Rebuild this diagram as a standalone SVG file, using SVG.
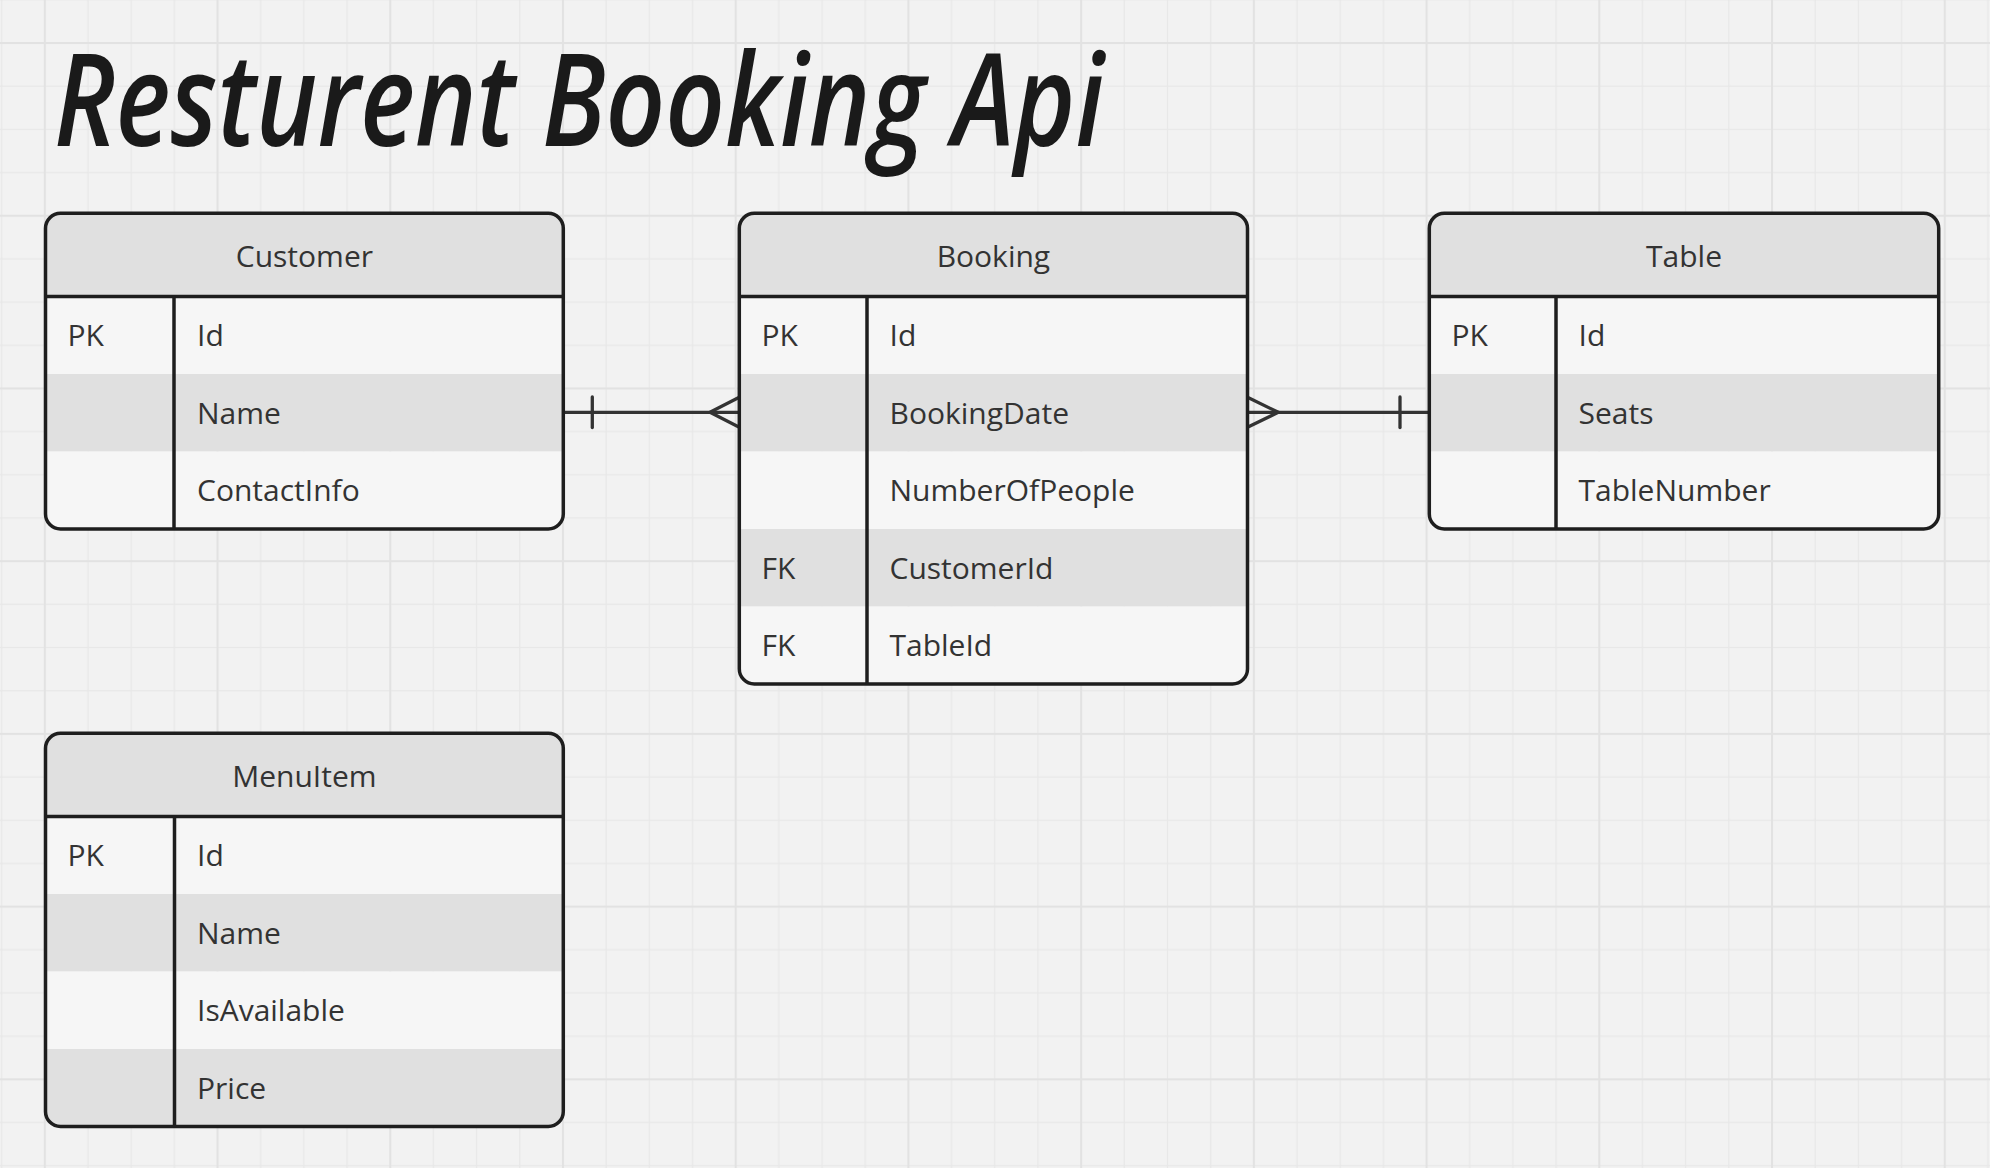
<svg xmlns="http://www.w3.org/2000/svg" width="1990" height="1168" viewBox="0 0 1990 1168">
<style>
.frame{fill:none;stroke:#1e1e1e;stroke-width:3.5}
.sep{stroke:#1e1e1e;stroke-width:3.5}
.hdr{fill:#e0e0e0}
.lt{fill:#f6f6f6}
.dk{fill:#e0e0e0}
.t{font-family:"Open Sans","Noto Sans","Liberation Sans",sans-serif;font-size:30px;fill:#333333}
.c{text-anchor:middle}
.conn{stroke:#333333;stroke-width:3.3;fill:none;stroke-linecap:round;stroke-linejoin:round}
.title{font-family:"Open Sans","Noto Sans",sans-serif;font-style:italic;font-weight:600;font-size:128px;fill:#1a1a1a}
</style>
<defs>
<pattern id="grid" patternUnits="userSpaceOnUse" x="43.8" y="42" width="172.72" height="172.72">
<rect width="172.72" height="172.72" fill="#f2f2f2"/>
<rect x="43.58" y="0" width="1.2" height="172.72" fill="#e8e8e8"/>
<rect x="86.76" y="0" width="1.2" height="172.72" fill="#e8e8e8"/>
<rect x="129.94" y="0" width="1.2" height="172.72" fill="#e8e8e8"/>
<rect x="0" y="43.58" width="172.72" height="1.2" fill="#e8e8e8"/>
<rect x="0" y="86.76" width="172.72" height="1.2" fill="#e8e8e8"/>
<rect x="0" y="129.94" width="172.72" height="1.2" fill="#e8e8e8"/>
<rect x="0" y="0" width="2" height="172.72" fill="#e2e2e2"/>
<rect x="0" y="0" width="172.72" height="2" fill="#e2e2e2"/>
</pattern>
<clipPath id="cpCustomer"><rect x="45.5" y="213.3" width="517.8" height="315.7" rx="15"/></clipPath>
<clipPath id="cpBooking"><rect x="739.3" y="213.3" width="508.2" height="470.7" rx="15"/></clipPath>
<clipPath id="cpTable"><rect x="1429.3" y="213.3" width="509.4" height="315.7" rx="15"/></clipPath>
<clipPath id="cpMenu"><rect x="45.5" y="733.3" width="517.8" height="393.2" rx="15"/></clipPath>
</defs>
<rect width="1990" height="1168" fill="url(#grid)"/>
<text class="title" x="54" y="146" textLength="1050" lengthAdjust="spacingAndGlyphs">Resturent Booking Api</text>

<g id="connectors">
<path class="conn" d="M563.3 412.3 H739.3"/>
<path class="conn" d="M592.3 397 V427.5"/>
<path class="conn" d="M739.3 397.3 L710 412.3 L739.3 427.3"/>
<path class="conn" d="M1247.5 412.3 H1429.3"/>
<path class="conn" d="M1247.5 397.3 L1278.3 412.3 L1247.5 427.3"/>
<path class="conn" d="M1400 397 V427.5"/>
</g>

<g id="customer">
<g clip-path="url(#cpCustomer)">
<rect class="hdr" x="45.5" y="213.3" width="517.8" height="83.2"/>
<rect class="lt" x="45.5" y="296.5" width="517.8" height="77.5"/>
<rect class="dk" x="45.5" y="374" width="517.8" height="77.5"/>
<rect class="lt" x="45.5" y="451.5" width="517.8" height="77.5"/>
</g>
<rect class="frame" x="45.5" y="213.3" width="517.8" height="315.7" rx="15"/>
<line class="sep" x1="45.5" y1="296.5" x2="563.3" y2="296.5"/>
<line class="sep" x1="174" y1="296.5" x2="174" y2="529"/>
<text class="t c" x="304.4" y="267">Customer</text>
<text class="t" x="67.5" y="345.5">PK</text>
<text class="t" x="197" y="345.5">Id</text>
<text class="t" x="197" y="423.5">Name</text>
<text class="t" x="197" y="501">ContactInfo</text>
</g>

<g id="booking">
<g clip-path="url(#cpBooking)">
<rect class="hdr" x="739.3" y="213.3" width="508.2" height="83.2"/>
<rect class="lt" x="739.3" y="296.5" width="508.2" height="77.5"/>
<rect class="dk" x="739.3" y="374" width="508.2" height="77.5"/>
<rect class="lt" x="739.3" y="451.5" width="508.2" height="77.5"/>
<rect class="dk" x="739.3" y="529" width="508.2" height="77.5"/>
<rect class="lt" x="739.3" y="606.5" width="508.2" height="77.5"/>
</g>
<rect class="frame" x="739.3" y="213.3" width="508.2" height="470.7" rx="15"/>
<line class="sep" x1="739.3" y1="296.5" x2="1247.5" y2="296.5"/>
<line class="sep" x1="867" y1="296.5" x2="867" y2="684"/>
<text class="t c" x="993.4" y="267">Booking</text>
<text class="t" x="761.5" y="345.5">PK</text>
<text class="t" x="889.5" y="345.5">Id</text>
<text class="t" x="889.5" y="423.5">BookingDate</text>
<text class="t" x="889.5" y="501">NumberOfPeople</text>
<text class="t" x="761.5" y="578.5">FK</text>
<text class="t" x="889.5" y="578.5">CustomerId</text>
<text class="t" x="761.5" y="656">FK</text>
<text class="t" x="889.5" y="656">TableId</text>
</g>

<g id="table">
<g clip-path="url(#cpTable)">
<rect class="hdr" x="1429.3" y="213.3" width="509.4" height="83.2"/>
<rect class="lt" x="1429.3" y="296.5" width="509.4" height="77.5"/>
<rect class="dk" x="1429.3" y="374" width="509.4" height="77.5"/>
<rect class="lt" x="1429.3" y="451.5" width="509.4" height="77.5"/>
</g>
<rect class="frame" x="1429.3" y="213.3" width="509.4" height="315.7" rx="15"/>
<line class="sep" x1="1429.3" y1="296.5" x2="1938.7" y2="296.5"/>
<line class="sep" x1="1556" y1="296.5" x2="1556" y2="529"/>
<text class="t c" x="1684" y="267">Table</text>
<text class="t" x="1451.5" y="345.5">PK</text>
<text class="t" x="1578.5" y="345.5">Id</text>
<text class="t" x="1578.5" y="423.5">Seats</text>
<text class="t" x="1578.5" y="501">TableNumber</text>
</g>

<g id="menuitem">
<g clip-path="url(#cpMenu)">
<rect class="hdr" x="45.5" y="733.3" width="517.8" height="83.2"/>
<rect class="lt" x="45.5" y="816.5" width="517.8" height="77.5"/>
<rect class="dk" x="45.5" y="894" width="517.8" height="77.5"/>
<rect class="lt" x="45.5" y="971.5" width="517.8" height="77.5"/>
<rect class="dk" x="45.5" y="1049" width="517.8" height="77.5"/>
</g>
<rect class="frame" x="45.5" y="733.3" width="517.8" height="393.2" rx="15"/>
<line class="sep" x1="45.5" y1="816.5" x2="563.3" y2="816.5"/>
<line class="sep" x1="174.5" y1="816.5" x2="174.5" y2="1126.5"/>
<text class="t c" x="304.4" y="787">MenuItem</text>
<text class="t" x="67.5" y="865.5">PK</text>
<text class="t" x="197" y="865.5">Id</text>
<text class="t" x="197" y="943.5">Name</text>
<text class="t" x="197" y="1021">IsAvailable</text>
<text class="t" x="197" y="1098.5">Price</text>
</g>
</svg>
